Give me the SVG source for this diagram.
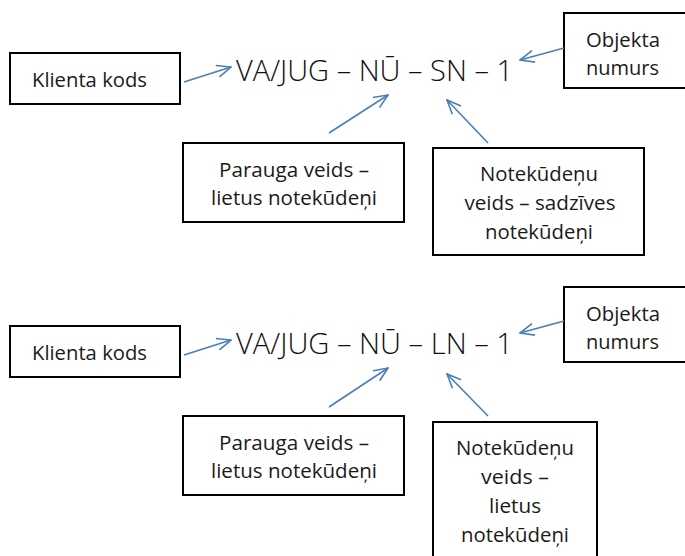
<svg xmlns="http://www.w3.org/2000/svg" width="685" height="556" viewBox="0 0 685 556">
<defs>
<style>
.box{fill:#fff;stroke:#000;stroke-width:2}
.t{font-family:"Open Sans","Liberation Sans",sans-serif;font-size:20.5px;fill:#1a1a1a;text-anchor:middle}
.tl{font-family:"Open Sans","Liberation Sans",sans-serif;font-size:20.5px;fill:#1a1a1a}
.code{font-family:"Open Sans","Liberation Sans",sans-serif;font-size:29px;font-weight:300;fill:#111}
.c{stroke:#4a7ebb;stroke-width:1.6;fill:none}
</style>
<marker id="ah" viewBox="0 0 16 14" refX="15" refY="7" markerWidth="16" markerHeight="14" markerUnits="userSpaceOnUse" orient="auto">
<path d="M1,1 L15,7 L1,13" fill="none" stroke="#4a7ebb" stroke-width="1.6"/>
</marker>
</defs>
<rect width="685" height="556" fill="#fff"/>

<g id="code1"><text class="code" x="236" y="81" textLength="277" lengthAdjust="spacingAndGlyphs">VA/JUG – NŪ – SN – 1</text></g>
<g id="klienta1"><rect class="box" x="10" y="53" width="170" height="51"/><text class="tl" x="32" y="86.5" textLength="115" lengthAdjust="spacingAndGlyphs">Klienta kods</text></g>
<g id="objekta1"><rect class="box" x="564" y="13" width="130" height="75"/><text class="tl" x="586" y="47" textLength="74" lengthAdjust="spacingAndGlyphs">Objekta</text><text class="tl" x="586" y="75" textLength="73" lengthAdjust="spacingAndGlyphs">numurs</text></g>
<g id="parauga1"><rect class="box" x="183" y="143" width="221" height="79"/><text class="t" x="294" y="176.5" textLength="150" lengthAdjust="spacingAndGlyphs">Parauga veids –</text><text class="t" x="294" y="205" textLength="166" lengthAdjust="spacingAndGlyphs">lietus notekūdeņi</text></g>
<g id="notek1"><rect class="box" x="433" y="148" width="211" height="107"/><text class="t" x="539" y="181" textLength="118" lengthAdjust="spacingAndGlyphs">Notekūdeņu</text><text class="t" x="540" y="210" textLength="151" lengthAdjust="spacingAndGlyphs">veids – sadzīves</text><text class="t" x="539" y="239" textLength="108" lengthAdjust="spacingAndGlyphs">notekūdeņi</text></g>

<g id="code2"><text class="code" x="236" y="354" textLength="277" lengthAdjust="spacingAndGlyphs">VA/JUG – NŪ – LN – 1</text></g>
<g id="klienta2"><rect class="box" x="10" y="326" width="170" height="51"/><text class="tl" x="32" y="359.5" textLength="115" lengthAdjust="spacingAndGlyphs">Klienta kods</text></g>
<g id="objekta2"><rect class="box" x="564" y="287" width="130" height="75"/><text class="tl" x="586" y="321" textLength="74" lengthAdjust="spacingAndGlyphs">Objekta</text><text class="tl" x="586" y="349" textLength="73" lengthAdjust="spacingAndGlyphs">numurs</text></g>
<g id="parauga2"><rect class="box" x="183" y="416" width="221" height="79"/><text class="t" x="294" y="449.5" textLength="150" lengthAdjust="spacingAndGlyphs">Parauga veids –</text><text class="t" x="294" y="478" textLength="166" lengthAdjust="spacingAndGlyphs">lietus notekūdeņi</text></g>
<g id="notek2"><rect class="box" x="433" y="422" width="164" height="145"/><text class="t" x="515" y="455" textLength="118" lengthAdjust="spacingAndGlyphs">Notekūdeņu</text><text class="t" x="515" y="484" textLength="68" lengthAdjust="spacingAndGlyphs">veids –</text><text class="t" x="515" y="513" textLength="52" lengthAdjust="spacingAndGlyphs">lietus</text><text class="t" x="515" y="542" textLength="108" lengthAdjust="spacingAndGlyphs">notekūdeņi</text></g>

<g id="connectors">
<line class="c" x1="184" y1="82" x2="231" y2="67" marker-end="url(#ah)"/>
<line class="c" x1="564" y1="48" x2="520" y2="60" marker-end="url(#ah)"/>
<line class="c" x1="329" y1="133" x2="388" y2="95" marker-end="url(#ah)"/>
<line class="c" x1="488" y1="143" x2="447" y2="100" marker-end="url(#ah)"/>
<line class="c" x1="184" y1="355" x2="231" y2="340" marker-end="url(#ah)"/>
<line class="c" x1="564" y1="321" x2="520" y2="333" marker-end="url(#ah)"/>
<line class="c" x1="329" y1="407" x2="388" y2="368" marker-end="url(#ah)"/>
<line class="c" x1="488" y1="416" x2="447" y2="374" marker-end="url(#ah)"/>
</g>
</svg>
